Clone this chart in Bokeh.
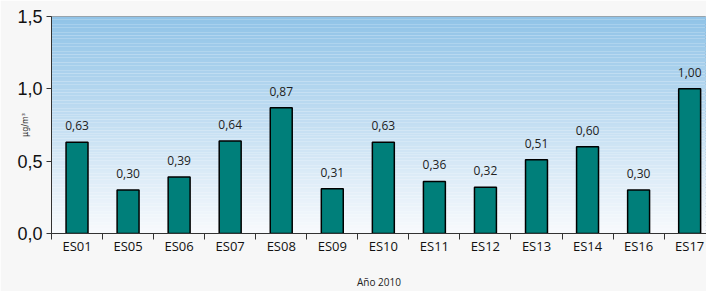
import numpy as np
from bokeh.plotting import figure
from bokeh.models import Range1d, FixedTicker, ColumnDataSource
from bokeh.core.properties import value
from bokeh.embed import file_html
from bokeh.resources import INLINE

stations = ["ES01", "ES05", "ES06", "ES07", "ES08", "ES09", "ES10",
            "ES11", "ES12", "ES13", "ES14", "ES16", "ES17"]
values = [0.63, 0.30, 0.39, 0.64, 0.87, 0.31, 0.63, 0.36, 0.32, 0.51, 0.60, 0.30, 1.00]
y_ticks = [0.0, 0.5, 1.0, 1.5]
x_title = "Año 2010"
y_title = "µg/m³"

n = len(stations)
xs = list(range(n))
labels = [f"{v:.2f}".replace(".", ",") for v in values]

p = figure(width=706, height=291, output_backend="svg", toolbar_location=None,
           x_range=Range1d(-0.5, 12.33), y_range=Range1d(0, 1.5),
           min_border_left=51, min_border_top=16, min_border_right=0, min_border_bottom=50)
p.border_fill_color = "#f7f7f7"
p.background_fill_color = "#ffffff"
p.outline_line_color = "#9a9a9a"
p.grid.visible = False

# vertical gradient background (light at bottom, blue at top)
nb = 80
edges = np.linspace(0, 1.5, nb + 1)
top_c = np.array([0x90, 0xc3, 0xe7])
bot_c = np.array([0xf8, 0xfa, 0xfd])
cols = []
for i in range(nb):
    t = (i + 0.5) / nb
    c = bot_c + (top_c - bot_c) * t
    cols.append("#%02x%02x%02x" % tuple(int(round(v)) for v in c))
p.quad(left=-0.5, right=n - 0.5, bottom=edges[:-1], top=edges[1:],
       fill_color=cols, line_color=None)

src = ColumnDataSource(dict(x=xs, v=values, lab=labels))
p.vbar(x="x", top="v", width=0.43, source=src, fill_color="#007f7a",
       line_color="#000000", line_width=1.5)
p.text(x="x", y="v", text="lab", source=src, text_align="center",
       text_baseline="bottom", y_offset=-12, text_font=value("Open Sans"),
       text_font_size="12px", text_color="#222222")

# x axis
p.xaxis.ticker = FixedTicker(ticks=xs, minor_ticks=[i - 0.5 for i in range(n + 1)])
p.xaxis.major_label_overrides = {i: s for i, s in enumerate(stations)}
p.xaxis.major_tick_line_color = None
p.xaxis.major_tick_in = 0
p.xaxis.major_tick_out = 0
p.xaxis.minor_tick_in = 0
p.xaxis.minor_tick_out = 6
p.xaxis.minor_tick_line_color = "#333333"
p.xaxis.axis_line_color = "#333333"
p.xaxis.major_label_text_font = "Open Sans"
p.xaxis.major_label_text_font_size = "13px"
p.xaxis.major_label_text_color = "#111111"
p.xaxis.major_label_standoff = -3
p.xaxis.axis_label = x_title
p.xaxis.axis_label_text_font = "Open Sans"
p.xaxis.axis_label_text_font_size = "10px"
p.xaxis.axis_label_text_font_style = "normal"
p.xaxis.axis_label_text_color = "#222222"
p.xaxis.axis_label_standoff = 17

# y axis
p.yaxis.ticker = FixedTicker(ticks=y_ticks, minor_ticks=[])
p.yaxis.major_label_overrides = {t: f"{t:.1f}".replace(".", ",") for t in y_ticks}
p.yaxis.major_label_text_font = "Liberation Sans"
p.yaxis.major_label_text_font_size = "18px"
p.yaxis.major_label_text_color = "#111111"
p.yaxis.major_tick_in = 0
p.yaxis.major_tick_out = 5
p.yaxis.major_tick_line_color = "#333333"
p.yaxis.axis_line_color = "#333333"
p.yaxis.major_label_standoff = 4
p.yaxis.axis_label = y_title
p.yaxis.axis_label_text_font = "DejaVu Sans"
p.yaxis.axis_label_text_font_size = "8px"
p.yaxis.axis_label_text_font_style = "normal"
p.yaxis.axis_label_text_color = "#333333"
p.yaxis.axis_label_standoff = -16

open("out.html", "w").write(file_html(p, INLINE))
